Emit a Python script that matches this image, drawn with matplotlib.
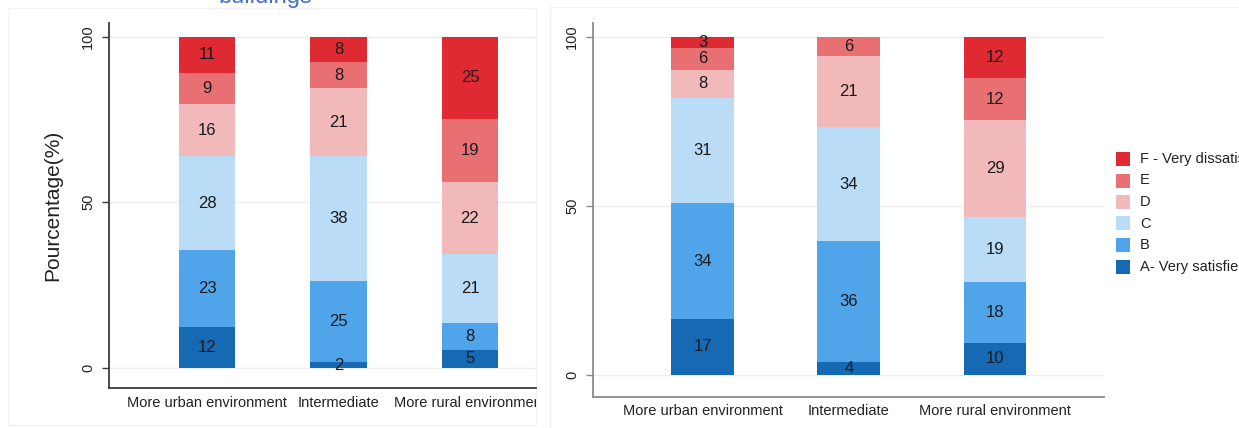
import matplotlib
matplotlib.use("Agg")
import matplotlib.pyplot as plt
from matplotlib.patches import Rectangle
from matplotlib.transforms import Bbox, TransformedBbox, ScaledTranslation

plt.rcParams['font.family'] = ['Liberation Sans', 'DejaVu Sans']

categories = ["More urban environment", "Intermediate", "More rural environment"]
levels = ["A- Very satisfied", "B", "C", "D", "E", "F - Very dissatisfied"]
colors = ['#1669B3', '#4FA4EA', '#BADCF6', '#F2B9BB', '#E87073', '#DF2A33']

# Left panel (percent per level, bottom to top)
left_A = [12.3, 1.6, 5.4]
left_B = [23.2, 24.6, 8.1]
left_C = [28.3, 37.6, 20.8]
left_D = [15.8, 20.6, 21.7]
left_E = [9.3, 7.8, 19.2]
left_F = [11.1, 7.8, 24.8]

# Right panel
right_A = [16.6, 3.8, 9.6]
right_B = [34.2, 35.7, 17.8]
right_C = [31.2, 33.9, 19.4]
right_D = [8.3, 20.9, 28.6]
right_E = [6.4, 5.7, 12.4]
right_F = [3.3, 0.0, 12.2]

yticks = [0, 50, 100]
ylabel = "Pourcentage(%)"
title_fragment = "buildings"

W, H = 1239, 428
fig = plt.figure(figsize=(W / 100, H / 100), dpi=100)


def fx(px):
    return px / W


def fy(py):
    return 1 - py / H


# faint panel frames
fig.add_artist(Rectangle((fx(8), fy(425)), fx(536 - 8), (425 - 8) / H, transform=fig.transFigure,
                         facecolor='none', edgecolor='#f3f3f3', lw=1.0, zorder=0))
fig.add_artist(Rectangle((fx(550), fy(440)), fx(720), (440 - 7) / H, transform=fig.transFigure,
                         facecolor='none', edgecolor='#f3f3f3', lw=1.0, zorder=0))

fig.text(fx(265), fy(2.5), title_fragment, color='#4472C4', fontsize=17, ha='center', va='baseline')


def draw_panel(ax, series, xlim, ylim, spine_color, lab_off_px, clip_bbox=None):
    x = list(range(len(categories)))
    bottoms = [0.0] * len(categories)
    for vals, col in zip(series, colors):
        ax.bar(x, vals, width=0.43, bottom=bottoms, color=col, linewidth=0, zorder=2)
        for xi, v, b in zip(x, vals, bottoms):
            if v >= 0.5:
                ax.text(xi, b + v / 2, f"{v:.0f}", ha='center', va='center', fontsize=12,
                        color='#1a1a1a', zorder=3)
        bottoms = [b + v for b, v in zip(bottoms, vals)]
    ax.set_xlim(*xlim)
    ax.set_ylim(*ylim)
    ax.set_yticks(yticks)
    ax.set_yticklabels([str(t) for t in yticks], rotation=90, va='center', fontsize=10.5)
    for t in yticks:
        ax.axhline(t, color='#ececec', lw=1.0, zorder=1)
    ax.set_xticks([])
    for s in ['top', 'right']:
        ax.spines[s].set_visible(False)
    for s in ['left', 'bottom']:
        ax.spines[s].set_color(spine_color)
        ax.spines[s].set_linewidth(1.3)
    ax.tick_params(axis='y', length=5, width=1.0, color=spine_color, pad=5, labelcolor='#222222')
    ax.set_facecolor('none')
    trans = ax.get_xaxis_transform() + ScaledTranslation(0, -lab_off_px / 100, fig.dpi_scale_trans)
    for xi, cat in zip(x, categories):
        t = ax.text(xi, 0, cat, transform=trans, ha='center', va='center', fontsize=10.5,
                    color='#222222')
        if clip_bbox is not None:
            t.set_clip_path(None)
            t.set_clip_box(clip_bbox)
            t.set_clip_on(True)


# Left axes
axL = fig.add_axes([fx(109), fy(388), fx(536 - 109), (388 - 22.7) / H])
clipL = TransformedBbox(Bbox([[0, 0], [fx(536), 1]]), fig.transFigure)
draw_panel(axL, [left_A, left_B, left_C, left_D, left_E, left_F],
           (-0.745, (536 - 207) / 131.5), (-6.1, 104.2), '#3c3c3c', 15, clip_bbox=clipL)
fig.text(fx(53), fy(205), ylabel, rotation=90, ha='center', va='center', fontsize=15, color='#222222')

# Right axes
axR = fig.add_axes([fx(593), fy(397), fx(1104 - 593), (397 - 23) / H])
draw_panel(axR, [right_A, right_B, right_C, right_D, right_E, right_F],
           (-0.749, 2.745), (-6.5, 104.1), '#8a8a8a', 14)

# Legend (top to bottom: F ... A)
row_y = [159, 180.5, 202, 223.5, 245, 266.5]
for lab, col, yy in zip(levels[::-1], colors[::-1], row_y):
    fig.add_artist(Rectangle((fx(1116), fy(yy + 7)), fx(14), 14 / H, transform=fig.transFigure,
                             facecolor=col, edgecolor='none'))
    fig.text(fx(1140), fy(yy), lab, ha='left', va='center', fontsize=10.5, color='#222222')

fig.savefig("out.png", dpi=100, facecolor='white')
